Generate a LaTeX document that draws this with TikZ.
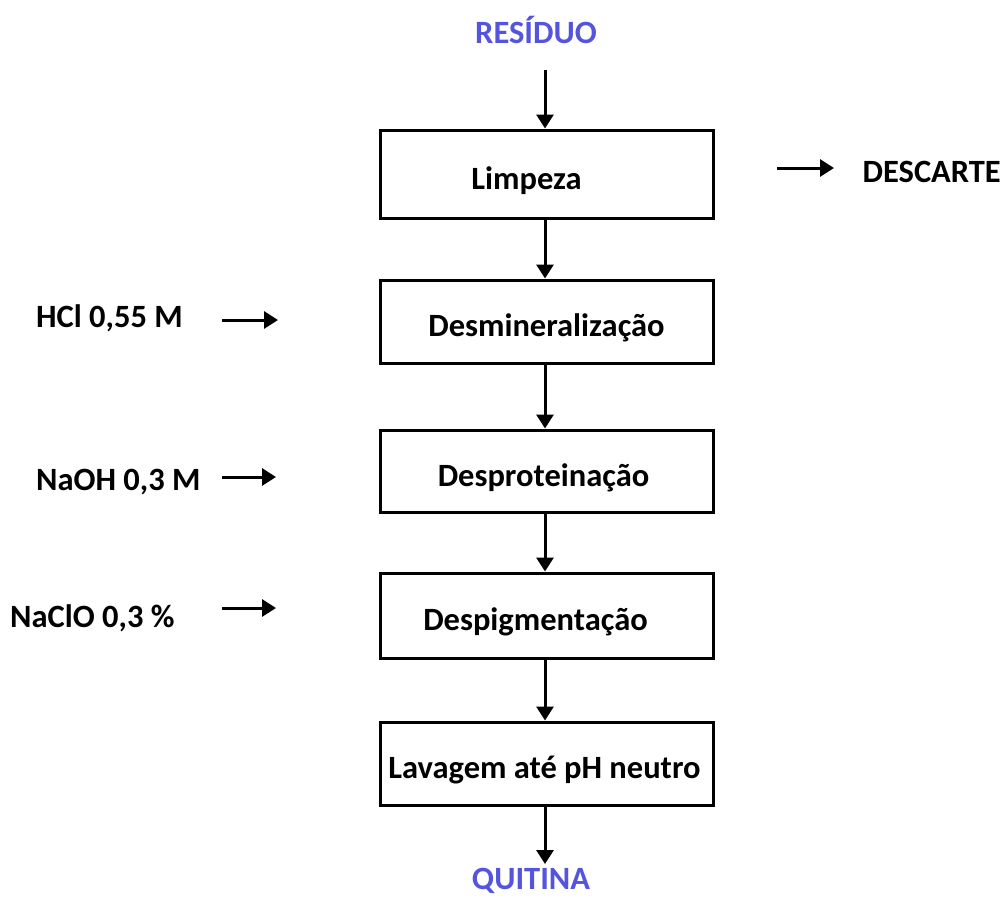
\documentclass[tikz,border=0pt]{standalone}
\usepackage{fontspec}
\setmainfont{Carlito}
\usetikzlibrary{arrows.meta}
\definecolor{flowblue}{RGB}{84,84,222}
\begin{document}
\begin{tikzpicture}[x=1pt,y=-1pt,
  txt/.style={font=\bfseries\fontsize{32.5}{36}\selectfont, inner sep=0pt},
  procbox/.style={draw, line width=3pt, minimum width=333pt, minimum height=85pt, text height=30pt, text depth=0pt, font=\bfseries\fontsize{32.5}{36}\selectfont, inner sep=0pt},
  io/.style={font=\bfseries\fontsize{32.5}{36}\selectfont, text=flowblue, inner sep=0pt},
  flow/.style={line width=3pt, -{Triangle[length=14pt,width=17pt]}}]
\useasboundingbox (0,0) rectangle (1003,898);
\node[io, anchor=base] (res) at (536,43) {RESÍDUO};
\node[procbox, minimum height=88pt] (b1) at (546.5,174) {\hspace*{-40pt}Limpeza};
\node[procbox, minimum height=83pt] (b2) at (546.5,321.5) {Desmineralização};
\node[procbox, minimum height=82pt] (b3) at (546.5,471) {\hspace*{-6pt}Desproteinação};
\node[procbox, minimum height=85pt] (b4) at (546.5,615.5) {\hspace*{-22pt}Despigmentação};
\node[procbox, minimum height=83pt] (b5) at (546.5,763.5) {\hspace*{-4pt}Lavagem até pH neutro};
\node[io, anchor=base] (qui) at (531,889) {QUITINA};
\coordinate (rtop) at (545,70);
\coordinate (qbot) at (545,864);
\draw[flow] (rtop) -- (rtop |- b1.north);
\draw[flow] (b1.south -| rtop) -- (b2.north -| rtop);
\draw[flow] (b2.south -| rtop) -- (b3.north -| rtop);
\draw[flow] (b3.south -| rtop) -- (b4.north -| rtop);
\draw[flow] (b4.south -| rtop) -- (b5.north -| rtop);
\draw[flow] (b5.south -| rtop) -- (qbot);
% side inputs/outputs
\node[txt, anchor=base east] (desc) at (1001,182) {DESCARTE};
\coordinate (d0) at (777,168);
\coordinate (d1) at (834,168);
\draw[flow] (d0) -- (d1);
\node[txt, anchor=base west] (hcl) at (36,327) {HCl 0,55 M};
\coordinate (h0) at (222,320);
\coordinate (h1) at (278,320);
\draw[flow] (h0) -- (h1);
\node[txt, anchor=base west] (naoh) at (36,490) {NaOH 0,3 M};
\coordinate (n0) at (222,477);
\coordinate (n1) at (276,477);
\draw[flow] (n0) -- (n1);
\node[txt, anchor=base west] (nacl) at (10,627) {NaClO 0,3 \%};
\coordinate (c0) at (222,608);
\coordinate (c1) at (276,608);
\draw[flow] (c0) -- (c1);
\end{tikzpicture}
\end{document}
